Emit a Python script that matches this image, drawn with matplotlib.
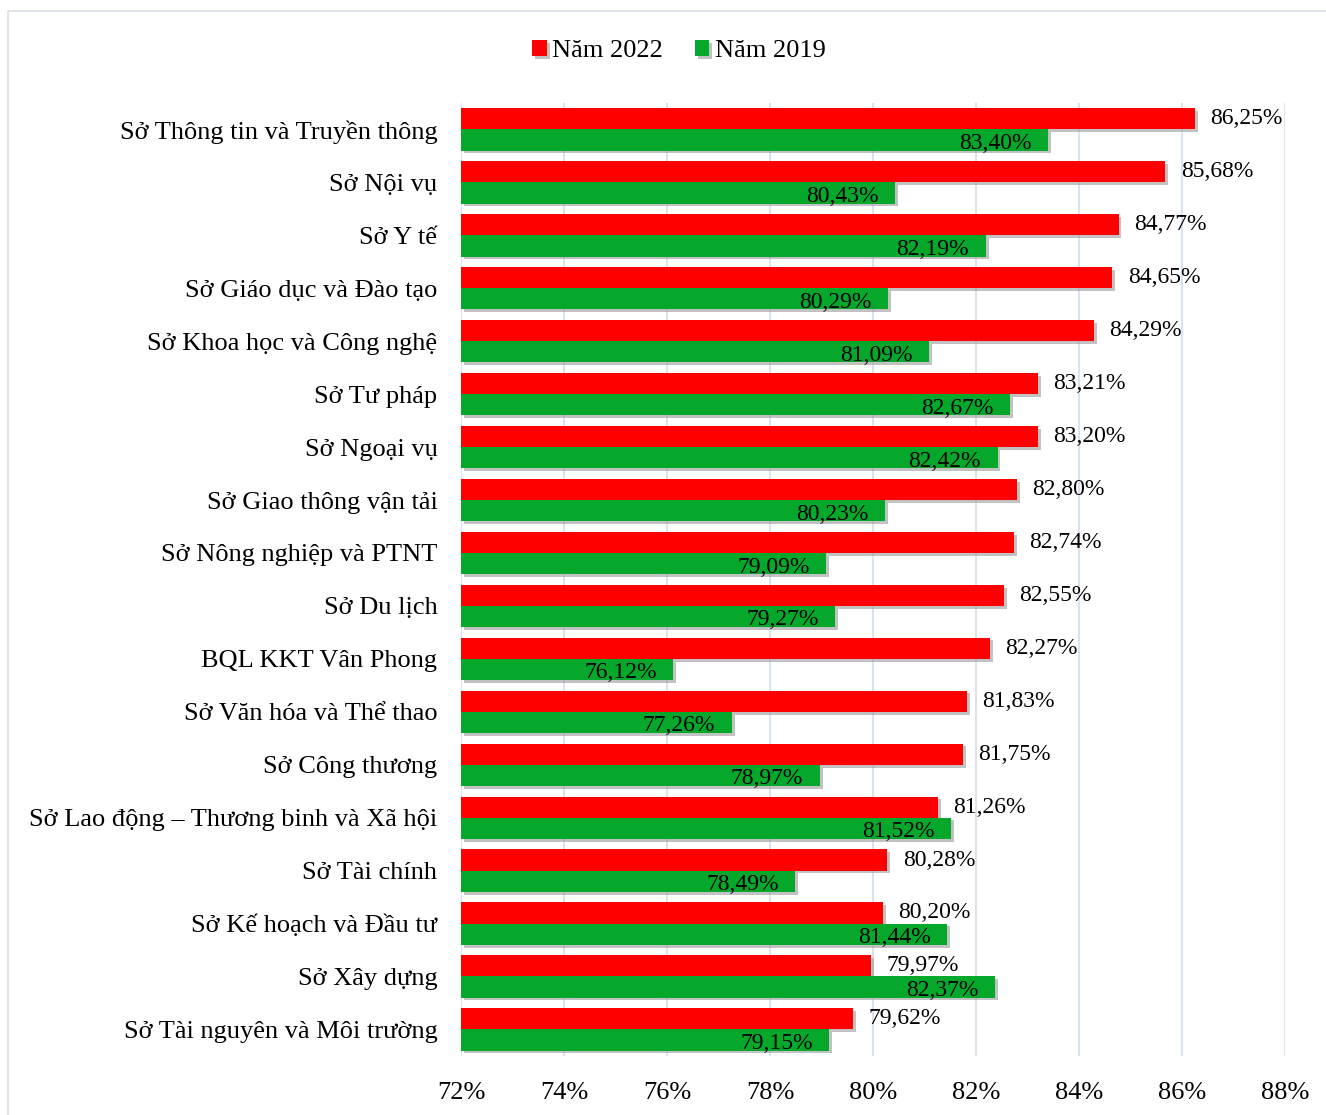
import numpy as np
import matplotlib.pyplot as plt
import matplotlib.patheffects as pe
from matplotlib.patches import Rectangle

plt.rcParams['font.family'] = ['Liberation Serif', 'DejaVu Serif']

# Categories, top to bottom as shown
categories = [
    "Sở Thông tin và Truyền thông",
    "Sở Nội vụ",
    "Sở Y tế",
    "Sở Giáo dục và Đào tạo",
    "Sở Khoa học và Công nghệ",
    "Sở Tư pháp",
    "Sở Ngoại vụ",
    "Sở Giao thông vận tải",
    "Sở Nông nghiệp và PTNT",
    "Sở Du lịch",
    "BQL KKT Vân Phong",
    "Sở Văn hóa và Thể thao",
    "Sở Công thương",
    "Sở Lao động – Thương binh và Xã hội",
    "Sở Tài chính",
    "Sở Kế hoạch và Đầu tư",
    "Sở Xây dựng",
    "Sở Tài nguyên và Môi trường",
]
nam_2022 = [86.25, 85.68, 84.77, 84.65, 84.29, 83.21, 83.20, 82.80, 82.74,
            82.55, 82.27, 81.83, 81.75, 81.26, 80.28, 80.20, 79.97, 79.62]
nam_2019 = [83.40, 80.43, 82.19, 80.29, 81.09, 82.67, 82.42, 80.23, 79.09,
            79.27, 76.12, 77.26, 78.97, 81.52, 78.49, 81.44, 82.37, 79.15]
xticks = [72, 74, 76, 78, 80, 82, 84, 86, 88]

red = "#FF0000"
green = "#05A82A"

def fmt(v):
    return f"{v:.2f}%".replace(".", ",")

fig = plt.figure(figsize=(13.26, 11.15), dpi=100)
ax = fig.add_axes([0.3477, 0.0530, 0.6213, 0.8546])

# light frame around the chart
fig.patches.append(Rectangle((0.006, -0.01), 1.0, 1.0, transform=fig.transFigure,
                             fill=False, edgecolor="#D9DEE8", linewidth=1.2))

y = np.arange(len(categories))
h = 0.4
shadow = [pe.SimplePatchShadow(offset=(2, -2), shadow_rgbFace="#9a9a9a", alpha=0.6), pe.Normal()]

b1 = ax.barh(y - h / 2, np.array(nam_2022) - 72, left=72, height=h, color=red,
             label="Năm 2022", zorder=3)
b2 = ax.barh(y + h / 2, np.array(nam_2019) - 72, left=72, height=h, color=green,
             label="Năm 2019", zorder=3)
for b in list(b1) + list(b2):
    b.set_path_effects(shadow)

for yi, v in zip(y, nam_2022):
    ax.annotate(fmt(v), (v, yi - h / 2), xytext=(11, 0), textcoords="offset points",
                va="center", ha="left", fontsize=17)
for yi, v in zip(y, nam_2019):
    ax.annotate(fmt(v), (v, yi + h / 2), xytext=(-12, -2.5), textcoords="offset points",
                va="center", ha="right", fontsize=17)

ax.set_ylim(len(categories) - 0.5, -0.5)
ax.set_xlim(72, 88)
ax.set_yticks(y)
ax.set_yticklabels(categories, fontsize=19)
ax.set_xticks(xticks)
ax.set_xticklabels([f"{t}%" for t in xticks], fontsize=19)
ax.tick_params(length=0, pad=17)
ax.tick_params(axis="x", pad=19)
ax.grid(axis="x", color="#D6E0EE", linewidth=1.3, zorder=0)
ax.set_axisbelow(True)
for s in ax.spines.values():
    s.set_visible(False)

fig.legend(handles=[b1, b2], labels=["Năm 2022", "Năm 2019"], loc="center",
           bbox_to_anchor=(0.512, 0.954), ncol=2, frameon=False, fontsize=19,
           handlelength=0.55, handleheight=0.55, handletextpad=0.2, columnspacing=1.2)

fig.savefig("out.png", dpi=100)
